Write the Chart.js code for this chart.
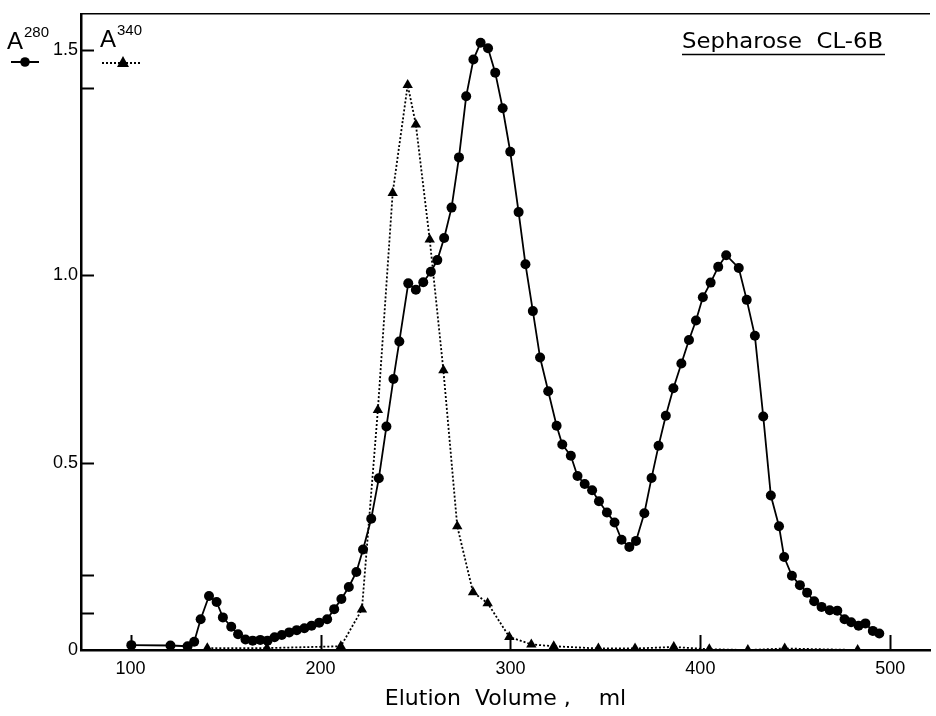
<!DOCTYPE html>
<html>
<head>
<meta charset="utf-8">
<script src="https://cdn.jsdelivr.net/npm/chart.js@4.4.1/dist/chart.umd.min.js"></script>
<style>
  html, body { margin: 0; padding: 0; background: #fff; }
  #chart { display: block; }
</style>
</head>
<body>
<canvas id="chart" width="936" height="716"></canvas>
<script>
// elution volume (ml) and absorbance
const a280Volume = [100.4, 121.0, 130.0, 133.5, 136.9, 141.3, 145.3, 148.6, 153.0, 156.6, 160.5, 164.3, 168.3, 172.1, 175.8, 179.6, 183.5, 187.5, 191.5, 195.3, 199.3, 203.5, 207.2, 211.0, 214.9, 218.9, 222.4, 226.7, 230.7, 234.7, 238.4, 241.5, 246.2, 250.2, 254.1, 258.1, 261.5, 265.1, 269.0, 272.9, 276.7, 280.5, 284.3, 288.2, 292.0, 295.9, 299.9, 304.3, 307.9, 311.8, 315.6, 319.9, 324.3, 327.3, 331.8, 335.3, 339.1, 343.0, 346.6, 350.8, 354.8, 358.5, 362.6, 366.1, 370.5, 374.3, 378.0, 381.8, 385.8, 390.0, 394.0, 397.7, 401.3, 405.4, 409.4, 413.6, 420.2, 424.4, 428.7, 433.1, 437.1, 441.4, 444.1, 448.2, 452.4, 456.2, 459.9, 463.8, 468.1, 472.1, 475.9, 479.4, 483.3, 486.9, 490.8, 494.2];
const a280Abs = [0.013, 0.012, 0.010, 0.022, 0.082, 0.144, 0.128, 0.087, 0.062, 0.042, 0.028, 0.025, 0.027, 0.025, 0.034, 0.040, 0.047, 0.053, 0.058, 0.065, 0.073, 0.082, 0.109, 0.136, 0.168, 0.208, 0.268, 0.350, 0.458, 0.596, 0.723, 0.823, 0.978, 0.961, 0.981, 1.009, 1.040, 1.099, 1.180, 1.314, 1.477, 1.575, 1.620, 1.605, 1.540, 1.445, 1.329, 1.168, 1.029, 0.904, 0.780, 0.690, 0.598, 0.548, 0.518, 0.464, 0.443, 0.426, 0.397, 0.367, 0.340, 0.294, 0.275, 0.291, 0.365, 0.459, 0.545, 0.625, 0.698, 0.764, 0.827, 0.879, 0.941, 0.980, 1.022, 1.053, 1.019, 0.934, 0.838, 0.623, 0.412, 0.330, 0.248, 0.198, 0.173, 0.153, 0.130, 0.115, 0.106, 0.105, 0.082, 0.074, 0.065, 0.071, 0.051, 0.044];

const a340Volume = [140.4, 171.8, 210.7, 221.8, 230.2, 238.0, 245.9, 250.2, 257.5, 264.7, 272.0, 280.3, 288.0, 299.4, 311.0, 322.8, 346.3, 365.6, 386.0, 404.7, 425.0, 444.4, 482.8];
const a340Abs = [0.005, 0.005, 0.010, 0.108, 0.640, 1.219, 1.507, 1.402, 1.095, 0.746, 0.330, 0.154, 0.125, 0.035, 0.015, 0.010, 0.004, 0.004, 0.008, 0.002, 0.000, 0.004, 0.000];

const xTicks = [100, 200, 300, 400, 500];
const yTicks = [0, 0.1, 0.2, 0.5, 1.0, 1.5, 1.6];
// the printed "1.5" sits on the upper tick of the original scale
const yLabels = { '0': '0', '0.5': '0.5', '1': '1.0', '1.6': '1.5' };

const xRange = [73.9, 520.9];
const yRange = [0, 1.697];

const toPoints = (xs, ys) => xs.map((x, i) => ({ x: x, y: ys[i] }));

// inward tick marks, top frame line, legend and title
const decorations = {
  id: 'decorations',
  afterDraw(chart) {
    const ctx = chart.ctx;
    const area = chart.chartArea;
    const xs = chart.scales.x;
    const ys = chart.scales.y;
    ctx.save();
    ctx.strokeStyle = '#000';
    ctx.fillStyle = '#000';

    // top frame
    ctx.lineWidth = 1.5;
    ctx.beginPath();
    ctx.moveTo(area.left, area.top);
    ctx.lineTo(area.right, area.top);
    ctx.stroke();

    ctx.lineWidth = 2;
    xTicks.forEach(v => {
      const px = Math.round(xs.getPixelForValue(v)) + 0.5;
      ctx.beginPath();
      ctx.moveTo(px, area.bottom);
      ctx.lineTo(px, area.bottom - 15);
      ctx.stroke();
    });
    yTicks.forEach(v => {
      if (v === 0) return;
      const py = Math.round(ys.getPixelForValue(v)) + 0.5;
      ctx.beginPath();
      ctx.moveTo(area.left, py);
      ctx.lineTo(area.left + 13, py);
      ctx.stroke();
    });

    // legend
    ctx.textBaseline = 'alphabetic';
    ctx.textAlign = 'left';
    ctx.font = '24px "Liberation Sans", Arial, sans-serif';
    ctx.fillText('A', 7, 49);
    ctx.fillText('A', 100, 47);
    ctx.font = '15px "Liberation Sans", Arial, sans-serif';
    ctx.fillText('280', 24, 37);
    ctx.fillText('340', 117, 35);

    ctx.lineWidth = 2;
    ctx.beginPath();
    ctx.moveTo(11, 62);
    ctx.lineTo(39, 62);
    ctx.stroke();
    ctx.beginPath();
    ctx.arc(25, 62, 4.8, 0, Math.PI * 2);
    ctx.fill();

    ctx.setLineDash([2, 2]);
    ctx.beginPath();
    ctx.moveTo(102, 63);
    ctx.lineTo(140, 63);
    ctx.stroke();
    ctx.setLineDash([]);
    ctx.beginPath();
    ctx.moveTo(123, 56);
    ctx.lineTo(129, 67);
    ctx.lineTo(117, 67);
    ctx.closePath();
    ctx.fill();

    // column label, underlined
    const title = 'Sepharose  CL-6B';
    ctx.font = '22px "DejaVu Sans", sans-serif';
    const w = ctx.measureText(title).width;
    ctx.save();
    ctx.translate(682, 48);
    ctx.scale(201 / w, 1);
    ctx.fillText(title, 0, 0);
    ctx.restore();
    ctx.lineWidth = 1.5;
    ctx.beginPath();
    ctx.moveTo(682, 54.5);
    ctx.lineTo(885, 54.5);
    ctx.stroke();

    ctx.restore();
  }
};

new Chart(document.getElementById('chart').getContext('2d'), {
  type: 'line',
  data: {
    datasets: [
      {
        label: 'A280',
        data: toPoints(a280Volume, a280Abs),
        borderColor: '#000',
        backgroundColor: '#000',
        borderWidth: 1.8,
        pointStyle: 'circle',
        pointRadius: 5,
        pointBorderWidth: 0,
        tension: 0
      },
      {
        label: 'A340',
        data: toPoints(a340Volume, a340Abs),
        borderColor: '#000',
        backgroundColor: '#000',
        borderWidth: 1.8,
        borderDash: [2, 2],
        pointStyle: 'triangle',
        pointRadius: 6,
        pointBorderWidth: 0,
        tension: 0
      }
    ]
  },
  options: {
    responsive: false,
    animation: false,
    devicePixelRatio: 1,
    layout: { padding: { top: 12, right: 0, left: 0, bottom: 0 } },
    plugins: {
      legend: { display: false },
      tooltip: { enabled: false }
    },
    scales: {
      x: {
        type: 'linear',
        min: xRange[0],
        max: xRange[1],
        grid: { display: false, drawTicks: false },
        border: { display: true, color: '#000', width: 2.5 },
        afterBuildTicks: scale => { scale.ticks = xTicks.map(v => ({ value: v })); },
        afterFit: scale => { scale.height = 66; },
        ticks: {
          autoSkip: false,
          maxRotation: 0,
          padding: 8,
          color: '#000',
          font: { family: '"Liberation Sans", Arial, sans-serif', size: 18 },
          callback: v => String(v)
        },
        title: {
          display: true,
          text: 'Elution  Volume ,    ml',
          color: '#000',
          font: { family: '"DejaVu Sans", sans-serif', size: 22 },
          padding: { top: 0, bottom: 4 }
        }
      },
      y: {
        type: 'linear',
        min: yRange[0],
        max: yRange[1],
        grid: { display: false, drawTicks: false },
        border: { display: true, color: '#000', width: 2.5 },
        afterBuildTicks: scale => { scale.ticks = yTicks.map(v => ({ value: v })); },
        afterFit: scale => { scale.width = 81; },
        ticks: {
          autoSkip: false,
          padding: 3,
          color: '#000',
          font: { family: '"Liberation Sans", Arial, sans-serif', size: 18 },
          callback: v => yLabels[String(Math.round(v * 10) / 10)] || ''
        }
      }
    }
  },
  plugins: [decorations]
});
</script>
</body>
</html>
